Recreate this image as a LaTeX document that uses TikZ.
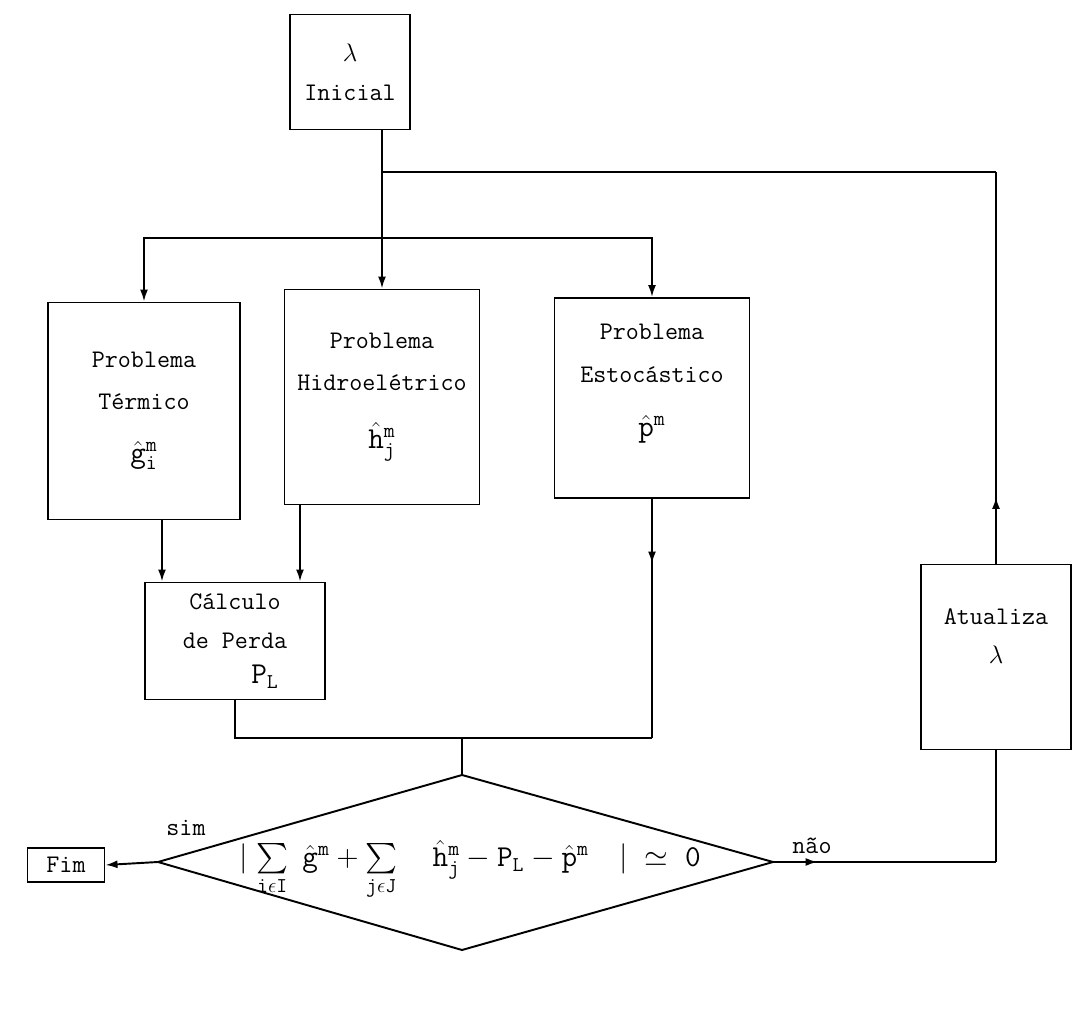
\documentclass[tikz,border=0pt]{standalone}
\usepackage{amssymb}
\usetikzlibrary{calc,positioning,arrows.meta,decorations.markings}

\tikzset{
  caixa/.style={draw, line width=1.1pt, align=center, font=\Large\ttfamily, inner sep=2pt},
  rotulo/.style={font=\Large\ttfamily, inner sep=1pt},
  fio/.style={line width=1.1pt},
  seta/.style={fio, -{Latex[length=2.4mm,width=1.6mm]}},
  setameio/.style={fio, postaction={decorate},
    decoration={markings, mark=at position #1 with {\arrow{Latex[length=2.4mm,width=1.6mm]}}}},
}
\newcommand{\tv}[1]{\mathtt{#1}}

\begin{document}
\begin{tikzpicture}[x=0.2mm,y=-0.2mm]
  %\draw[color=gray,step=10, help lines,opacity=0.3] (0,0) grid (1073,1018); %help grid
  \useasboundingbox (0,0) rectangle (1073,1018);
  % caixas
  \node[caixa, minimum width=24mm, minimum height=23mm] (ini) at (350,72) {$\lambda$\\[4pt]Inicial};
  \node[caixa, minimum width=38.4mm, minimum height=43.4mm] (term) at (144,411)
    {Problema\\[6pt]Térmico\\[12pt]{\LARGE$\hat{\tv{g}}^{\tv{m}}_{\tv{i}}$}};
  \node[caixa, minimum width=39mm, minimum height=43mm] (hidro) at (382,397)
    {Problema\\[6pt]Hidroelétrico\\[15pt]{\LARGE$\hat{\tv{h}}^{\tv{m}}_{\tv{j}}$}};
  \node[caixa, minimum width=39mm, minimum height=40mm] (esto) at (652,398)
    {Problema\\[6pt]Estocástico\\[13pt]{\LARGE$\hat{\tv{p}}^{\tv{m}}$}\\[2pt]\mbox{}};
  \node[caixa, minimum width=36mm, minimum height=23.4mm] (calc) at (235,641)
    {Cálculo\\[4pt]de Perda\\[2pt]\hspace*{12mm}{\LARGE$\tv{P}_{\tv{L}}$}};
  \node[caixa, minimum width=30mm, minimum height=37mm] (atu) at (996,657)
    {Atualiza\\[4pt]$\lambda$\\[6pt]\mbox{}};
  \node[caixa, minimum width=15.4mm, minimum height=6.8mm] (fim) at (66,865) {Fim};
  % losango
  \coordinate (dtop) at (462,775);
  \coordinate (dright) at (773,862);
  \coordinate (dbot) at (462,950);
  \coordinate (dleft) at (158,862);
  \draw[fio] (dtop) -- (dright) -- (dbot) -- (dleft) -- cycle;
  \node[rotulo, font=\LARGE] (formula) at (470,870)
    {$\bigl|\;\sum\limits_{\tv{i}\epsilon\tv{I}}\ \hat{\tv{g}}^{\tv{m}} + \sum\limits_{\tv{j}\epsilon\tv{J}}\quad
      \hat{\tv{h}}^{\tv{m}}_{\tv{j}} - \tv{P}_{\tv{L}} - \hat{\tv{p}}^{\tv{m}}\quad\bigr| \;\simeq\; \tv{0}$};
  % juncoes
  \coordinate (ya) at (0,172);
  \coordinate (yb) at (0,238);
  \coordinate (yc) at (0,738);
  \coordinate (ja) at (hidro.north |- ya);
  \coordinate (jb) at (hidro.north |- yb);
  \coordinate (jc) at (dtop |- yc);
  % ligacoes
  \draw[seta] (ini.south -| hidro.north) -- (hidro.north);
  \draw[fio] (ja) -- (ja -| atu.north);
  \draw[setameio=0.17] (atu.north) -- (atu.north |- ja);
  \draw[seta] (jb) -| (term.north);
  \draw[seta] (jb) -| (esto.north);
  \draw[seta] ([xshift=3.6mm]term.south) -- ([xshift=3.6mm]term.south |- calc.north);
  \draw[seta] ([xshift=-16.4mm]hidro.south) -- ([xshift=-16.4mm]hidro.south |- calc.north);
  \draw[setameio=0.27] (esto.south) -- (esto.south |- jc);
  \draw[fio] (calc.south) -- (calc.south |- jc) -- (esto.south |- jc);
  \draw[fio] (jc) -- (dtop);
  \draw[seta] (dleft) -- (fim.east);
  \node[rotulo] (sim) at (186,828) {sim};
  \draw[setameio=0.2] (dright) -- (dright -| atu.south);
  \draw[fio] (dright -| atu.south) -- (atu.south);
  \node[rotulo] (nao) at (812,846) {não};
\end{tikzpicture}
\end{document}
